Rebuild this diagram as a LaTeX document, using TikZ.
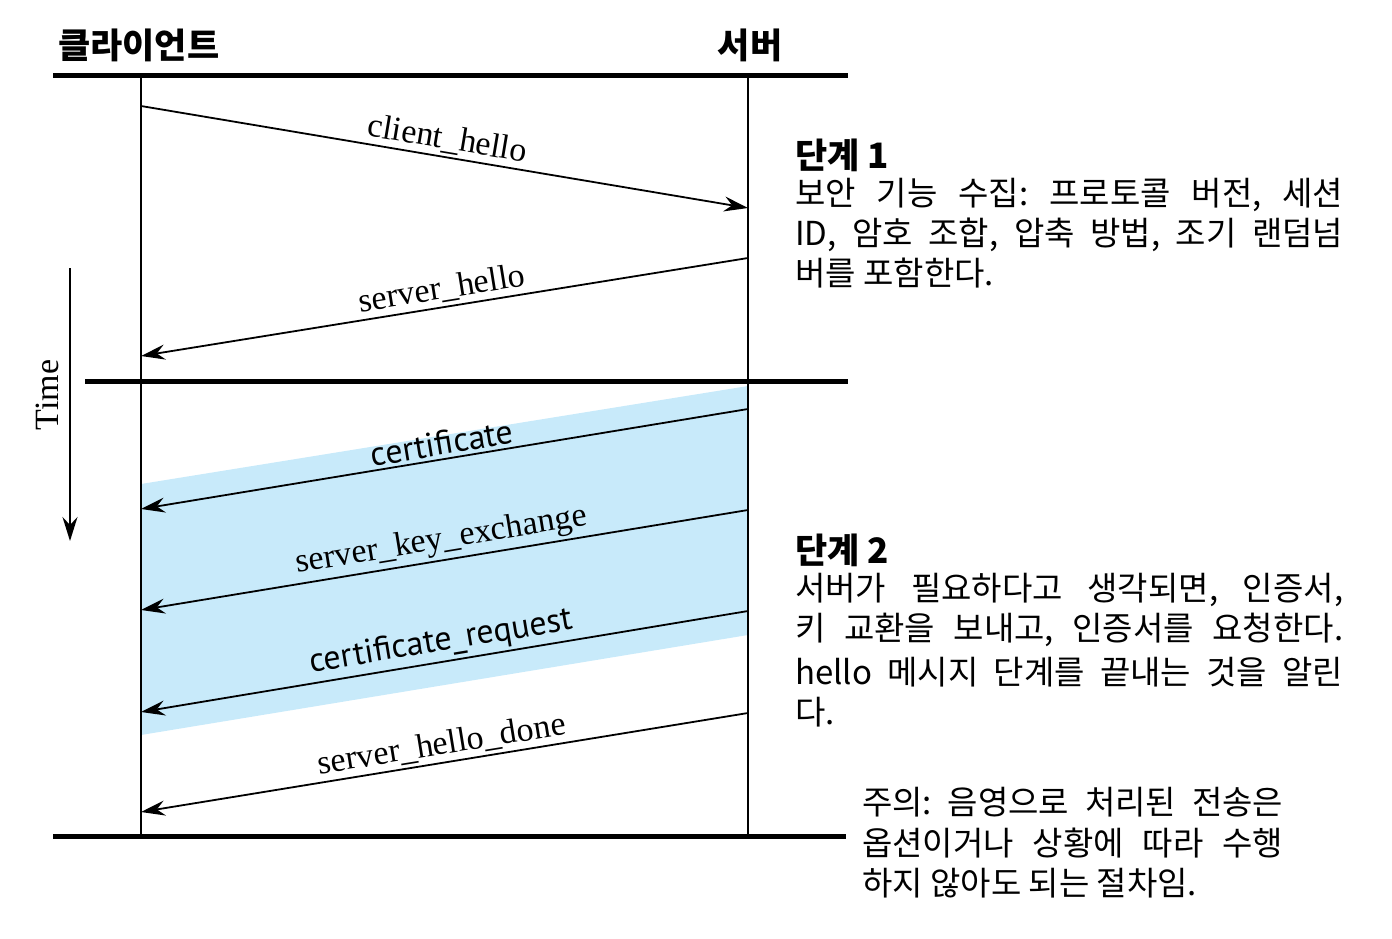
\documentclass[tikz,border=0pt]{standalone}
\usepackage{fontspec}
\setmainfont{Liberation Serif}
\newfontfamily\kr{Noto Sans CJK KR}
\newfontfamily\ssf{PT Sans}
\usetikzlibrary{arrows.meta}
\definecolor{shadeblue}{RGB}{200,234,250}
\frenchspacing
\tikzset{
  msg/.style={line width=1.8pt,-{Stealth[length=24pt,width=15pt,inset=8pt]}},
  lbl/.style={font=\fontsize{34}{38}\selectfont,sloped,above,midway,inner sep=3pt},
  slbl/.style={font=\ssf\fontsize{34}{38}\selectfont,sloped,above,midway,inner sep=3pt},
  life/.style={line width=1.8pt},
  rulebar/.style={line width=5pt},
  krtext/.style={font=\kr\fontsize{33}{38}\selectfont,anchor=west,inner sep=0pt},
  krhead/.style={font=\kr\bfseries\fontsize{35}{38}\selectfont,inner sep=0pt}
}
\begin{document}
\begin{tikzpicture}[x=1pt,y=-1pt]
\useasboundingbox (0,0) rectangle (1392,939);
% shading
\fill[shadeblue] (141,484) -- (748,386) -- (748,635) -- (141,735) -- cycle;
% headings
\node[krhead,anchor=west] (hc) at (58,45) {클라이언트};
\node[krhead] (hs) at (750,45) {서버};
% lifelines
\coordinate (ct) at (141,76); \coordinate (cb) at (141,836);
\coordinate (st) at (748,76); \coordinate (sb) at (748,836);
\draw[life] (ct) -- (cb);
\draw[life] (st) -- (sb);
% rules
\coordinate (r1a) at (53,76); \coordinate (r1b) at (848,76);
\coordinate (r2a) at (85,381); \coordinate (r2b) at (848,381);
\coordinate (r3a) at (53,836); \coordinate (r3b) at (846,836);
\draw[rulebar] (r1a) -- (r1b);
\draw[rulebar] (r2a) -- (r2b);
\draw[rulebar] (r3a) -- (r3b);
% messages
\coordinate (m1a) at (141,106); \coordinate (m1b) at (748,208);
\coordinate (m2a) at (748,258); \coordinate (m2b) at (141,356);
\coordinate (m3a) at (748,409); \coordinate (m3b) at (141,509);
\coordinate (m4a) at (748,510); \coordinate (m4b) at (141,610);
\coordinate (m5a) at (748,611); \coordinate (m5b) at (141,712);
\coordinate (m6a) at (748,713); \coordinate (m6b) at (141,812);
\draw[msg] (m1a) -- node[lbl] (l1) {client\_hello} (m1b);
\draw[msg] (m2a) -- node[lbl] (l2) {server\_hello} (m2b);
\draw[msg] (m3a) -- node[slbl] (l3) {certificate} (m3b);
\draw[msg] (m4a) -- node[lbl] (l4) {server\_key\_exchange} (m4b);
\draw[msg] (m5a) -- node[slbl] (l5) {certificate\_request} (m5b);
\draw[msg] (m6a) -- node[lbl] (l6) {server\_hello\_done} (m6b);
% time
\coordinate (ta) at (70,268); \coordinate (tb) at (70,541);
\draw[msg] (ta) -- (tb);
\node[rotate=90,font=\fontsize{34}{38}\selectfont,inner sep=0pt] (time) at (47,395) {Time};
% phase 1
\node[krhead,anchor=west] (p1) at (795,155) {단계 1};
\node[krtext] (p1a) at (795,195) {\makebox[548pt][s]{보안 기능 수집: 프로토콜 버전, 세션}};
\node[krtext] (p1b) at (795,235) {\makebox[548pt][s]{ID, 암호 조합, 압축 방법, 조기 랜덤넘}};
\node[krtext] (p1c) at (795,273) {버를 포함한다.};
% phase 2
\node[krhead,anchor=west] (p2) at (795,550) {단계 2};
\node[krtext] (p2a) at (795,590) {\makebox[548pt][s]{서버가 필요하다고 생각되면, 인증서,}};
\node[krtext] (p2b) at (795,630) {\makebox[548pt][s]{키 교환을 보내고, 인증서를 요청한다.}};
\node[krtext] (p2c) at (795,672) {\makebox[548pt][s]{hello 메시지 단계를 끝내는 것을 알린}};
\node[krtext] (p2d) at (795,712) {다.};
% note
\node[krtext] (n1) at (862,802) {\makebox[421pt][s]{주의: 음영으로 처리된 전송은}};
\node[krtext] (n2) at (862,843) {\makebox[421pt][s]{옵션이거나 상황에 따라 수행}};
\node[krtext] (n3) at (862,883) {하지 않아도 되는 절차임.};
\end{tikzpicture}
\end{document}
